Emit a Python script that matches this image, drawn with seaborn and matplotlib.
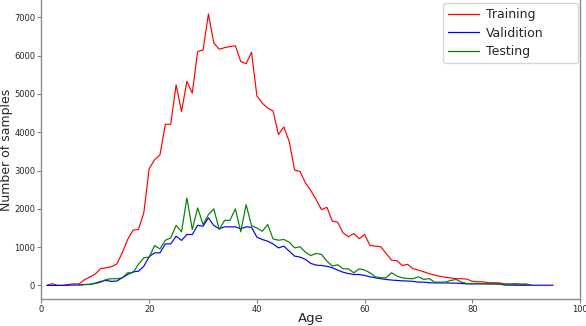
import numpy as np
import pandas as pd
import matplotlib
matplotlib.use("Agg")
import matplotlib.pyplot as plt
import seaborn as sns

# ---- data ----
train_ages = list(range(1, 91))
train_counts = [0, 45, 0, 0, 25, 40, 40, 150, 220, 300,
                440, 460, 490, 560, 855, 1200, 1445, 1460, 1900, 3050,
                3280, 3410, 4210, 4210, 5240, 4540, 5330, 5020, 6110, 6150,
                7090, 6330, 6170, 6210, 6240, 6260, 5850, 5790, 6090, 4950,
                4760, 4630, 4560, 3940, 4140, 3760, 3010, 2980, 2680, 2480,
                2240, 1980, 2040, 1680, 1650, 1370, 1270, 1355, 1220, 1330,
                1040, 1025, 1010, 835, 660, 645, 520, 550, 435, 400,
                355, 305, 270, 235, 215, 195, 175, 175, 165, 105,
                95, 95, 70, 70, 65, 40, 35, 35, 30, 20]

val_ages = list(range(1, 96))
val_counts = [0, 0, 0, 0, 5, 10, 10, 25, 30, 60,
              105, 130, 105, 115, 200, 285, 355, 370, 500, 750,
              850, 850, 1085, 1085, 1285, 1175, 1330, 1330, 1570, 1545,
              1765, 1565, 1480, 1530, 1530, 1530, 1480, 1530, 1520, 1260,
              1200, 1155, 1085, 980, 1025, 895, 765, 740, 680, 575,
              530, 520, 500, 460, 400, 345, 310, 285, 285, 260,
              225, 200, 175, 155, 140, 130, 120, 115, 105, 85,
              85, 70, 65, 65, 65, 60, 60, 50, 40, 40,
              40, 40, 40, 40, 35, 10, 8, 5, 5, 5,
              5, 5, 5, 5, 5]

test_ages = list(range(7, 92))
test_counts = [10, 20, 25, 50, 85, 155, 175, 175, 200, 330,
               330, 550, 720, 740, 1040, 955, 1180, 1240, 1570, 1400,
               2285, 1460, 2025, 1590, 1850, 2000, 1460, 1700, 1700, 2000,
               1400, 2110, 1560, 1500, 1415, 1590, 1215, 1180, 1200, 1130,
               980, 1010, 870, 780, 835, 810, 635, 505, 540, 435,
               432, 330, 435, 400, 330, 225, 200, 200, 330, 245,
               200, 180, 175, 225, 155, 180, 85, 85, 85, 130,
               155, 85, 50, 50, 50, 45, 40, 40, 35, 30,
               30, 45, 30, 40, 10]

series_names = ["Training", "Validition", "Testing"]
series_colors = ["red", "blue", "green"]

df = pd.concat([
    pd.DataFrame({"Age": train_ages, "Count": train_counts, "Set": series_names[0]}),
    pd.DataFrame({"Age": val_ages, "Count": val_counts, "Set": series_names[1]}),
    pd.DataFrame({"Age": test_ages, "Count": test_counts, "Set": series_names[2]}),
], ignore_index=True)

sns.set_theme(style="ticks")
plt.rcParams["font.family"] = ["DejaVu Sans"]

fig = plt.figure(figsize=(5.86, 3.26), dpi=100)
ax = fig.add_axes([0.0708, 0.0828, 0.9190, 0.9172])

sns.lineplot(data=df, x="Age", y="Count", hue="Set", hue_order=series_names,
             palette=dict(zip(series_names, series_colors)), linewidth=0.85,
             ax=ax, estimator=None, sort=True)

ax.set_xlim(0, 100)
ax.set_ylim(-355, 7455)
ax.set_xticks([0, 20, 40, 60, 80, 100])
ax.set_yticks(range(0, 8000, 1000))
ax.tick_params(axis="both", labelsize=6, length=3, width=0.8, color="0.5", pad=1.5)
for s in ax.spines.values():
    s.set_color("0.55")
    s.set_linewidth(1.0)
ax.spines["top"].set_visible(False)

ax.set_xlabel("Age", fontsize=9.5, labelpad=-1.5)
ax.set_ylabel("Number of samples", fontsize=9, labelpad=1)

leg = ax.legend(loc="upper right", bbox_to_anchor=(0.7456, 0.5, 0.2507, 0.49),
                mode="expand", fontsize=9, handlelength=2.5, handletextpad=0.5,
                borderaxespad=0.0, frameon=True, fancybox=True,
                labelspacing=0.45)
leg.get_frame().set_edgecolor("0.8")
for line in leg.get_lines():
    line.set_linewidth(0.9)

fig.savefig("out.png", dpi=100)
